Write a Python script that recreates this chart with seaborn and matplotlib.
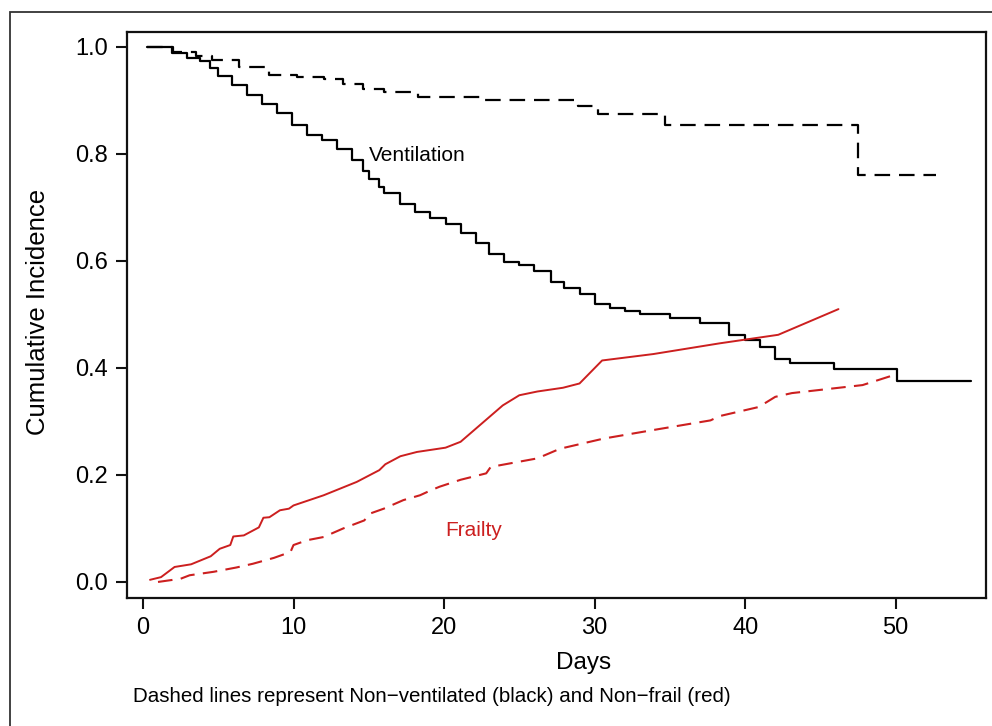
import pandas as pd
import matplotlib
matplotlib.use('Agg')
import matplotlib.pyplot as plt
from matplotlib.patches import Rectangle
import seaborn as sns

# Ventilation (solid black, step curve)
vent_days = [0.3, 1.9, 2.9, 3.8, 4.45, 5.0, 5.9, 6.9, 7.9, 8.9, 9.9, 10.9, 11.9, 12.9, 13.9,
             14.6, 15.0, 15.7, 16.0, 17.1, 18.1, 19.1, 20.1, 21.1, 22.1, 23.0, 24.0, 25.0, 26.0,
             27.1, 28.0, 29.0, 30.0, 31.0, 32.0, 33.0, 35.0, 37.0, 38.9, 40.0, 41.0, 42.0, 43.0,
             45.9, 50.1, 55.0]
vent_vals = [1.0, 0.988, 0.979, 0.973, 0.960, 0.946, 0.928, 0.911, 0.894, 0.877, 0.855, 0.836, 0.827,
             0.810, 0.788, 0.769, 0.754, 0.738, 0.727, 0.707, 0.692, 0.680, 0.670, 0.653, 0.633, 0.613,
             0.598, 0.592, 0.581, 0.561, 0.550, 0.539, 0.519, 0.513, 0.507, 0.500, 0.493, 0.484, 0.461,
             0.452, 0.439, 0.416, 0.409, 0.398, 0.375, 0.375]

# Non-ventilated (dashed black, step curve)
nonvent_days = [0.3, 2.0, 3.5, 4.6, 6.4, 8.4, 10.2, 12.0, 13.3, 14.6, 16.0, 18.3, 22.6, 28.9,
                30.2, 34.7, 47.5, 52.7]
nonvent_vals = [1.0, 0.990, 0.983, 0.975, 0.963, 0.947, 0.944, 0.941, 0.931, 0.922, 0.916, 0.907,
                0.900, 0.889, 0.875, 0.855, 0.760, 0.760]

# Frailty (solid red)
frail_days = [0.47, 1.2, 2.1, 3.2, 4.5, 5.1, 5.8, 6.0, 6.7, 7.7, 8.0, 8.4, 9.1, 9.7, 10.0, 12.0,
              14.2, 15.7, 16.1, 17.1, 18.2, 20.1, 21.1, 23.9, 25.0, 26.2, 27.9, 29.0, 30.5, 33.9,
              38.3, 42.2, 46.2]
frail_vals = [0.004, 0.009, 0.028, 0.033, 0.048, 0.062, 0.069, 0.085, 0.087, 0.102, 0.120, 0.121,
              0.134, 0.137, 0.143, 0.162, 0.187, 0.209, 0.220, 0.235, 0.243, 0.251, 0.262, 0.330,
              0.349, 0.356, 0.363, 0.371, 0.414, 0.426, 0.446, 0.462, 0.510]

# Non-frail (dashed red)
nonfrail_days = [1.0, 2.5, 3.1, 4.7, 6.2, 7.3, 8.7, 9.8, 10.0, 10.9, 12.0, 13.3, 14.7, 15.1, 16.0,
                 17.3, 18.4, 19.1, 19.7, 21.1, 22.8, 23.1, 26.2, 27.7, 30.6, 33.9, 37.7, 38.3, 40.9,
                 42.0, 43.1, 47.8, 49.8]
nonfrail_vals = [0.0, 0.006, 0.0125, 0.019, 0.027, 0.034, 0.045, 0.056, 0.069, 0.078, 0.084, 0.100,
                 0.115, 0.128, 0.137, 0.153, 0.162, 0.171, 0.178, 0.191, 0.203, 0.215, 0.231, 0.249,
                 0.268, 0.284, 0.302, 0.310, 0.327, 0.346, 0.353, 0.368, 0.386]

x_ticks = [0, 10, 20, 30, 40, 50]
y_ticks = [0.0, 0.2, 0.4, 0.6, 0.8, 1.0]

RED = '#cc1f1f'

sns.set_style('ticks')
plt.rcParams['font.family'] = ['Liberation Sans', 'DejaVu Sans']
plt.rcParams.update({'text.color': 'black', 'axes.labelcolor': 'black',
                     'xtick.color': 'black', 'ytick.color': 'black'})

fig = plt.figure(figsize=(9.92, 7.26), dpi=100)
ax = fig.add_axes([127 / 992, 128 / 726, 859 / 992, 566 / 726])

sns.lineplot(x=vent_days, y=vent_vals, ax=ax, color='black', lw=1.6,
             drawstyle='steps-post', estimator=None)
sns.lineplot(x=nonvent_days, y=nonvent_vals, ax=ax, color='black', lw=1.6,
             drawstyle='steps-post', estimator=None, linestyle=(0, (7, 4)))
sns.lineplot(x=frail_days, y=frail_vals, ax=ax, color=RED, lw=1.4, estimator=None)
sns.lineplot(x=nonfrail_days, y=nonfrail_vals, ax=ax, color=RED, lw=1.5,
             estimator=None, linestyle=(0, (7, 4)))

ax.text(15.0, 0.797, 'Ventilation', fontsize=15, color='black', va='center', ha='left')
ax.text(20.1, 0.097, 'Frailty', fontsize=15, color=RED, va='center', ha='left')

ax.set_xlim(-1.06, 56.0)
ax.set_ylim(-0.03, 1.028)
ax.set_xticks(x_ticks)
ax.set_yticks(y_ticks)
ax.set_xticklabels([str(t) for t in x_ticks])
ax.set_yticklabels([f'{t:.1f}' for t in y_ticks])
ax.tick_params(axis='both', labelsize=17, length=8, width=1.5, color='#111111',
               labelcolor='black', pad=6)
for s in ax.spines.values():
    s.set_visible(True)
    s.set_linewidth(1.6)
    s.set_color('#111111')

ax.set_xlabel('Days', fontsize=17.5, color='black')
ax.set_ylabel('Cumulative Incidence', fontsize=18.5, color='black')
ax.xaxis.set_label_coords(0.532, -0.095)
ax.yaxis.set_label_coords(-0.09, 0.505)

fig.text(133 / 992, 1 - 697 / 726, 'Dashed lines represent Non\u2212ventilated (black) and Non\u2212frail (red)',
         fontsize=14.8, va='center', ha='left', color='black')

# outer frame around the whole panel
fig.patches.append(Rectangle((10 / 992, -0.1), 1.2, 1 - 12 / 726 + 0.1, transform=fig.transFigure,
                             fill=False, edgecolor='#333333', lw=1.3))

fig.savefig('out.png', dpi=100)
